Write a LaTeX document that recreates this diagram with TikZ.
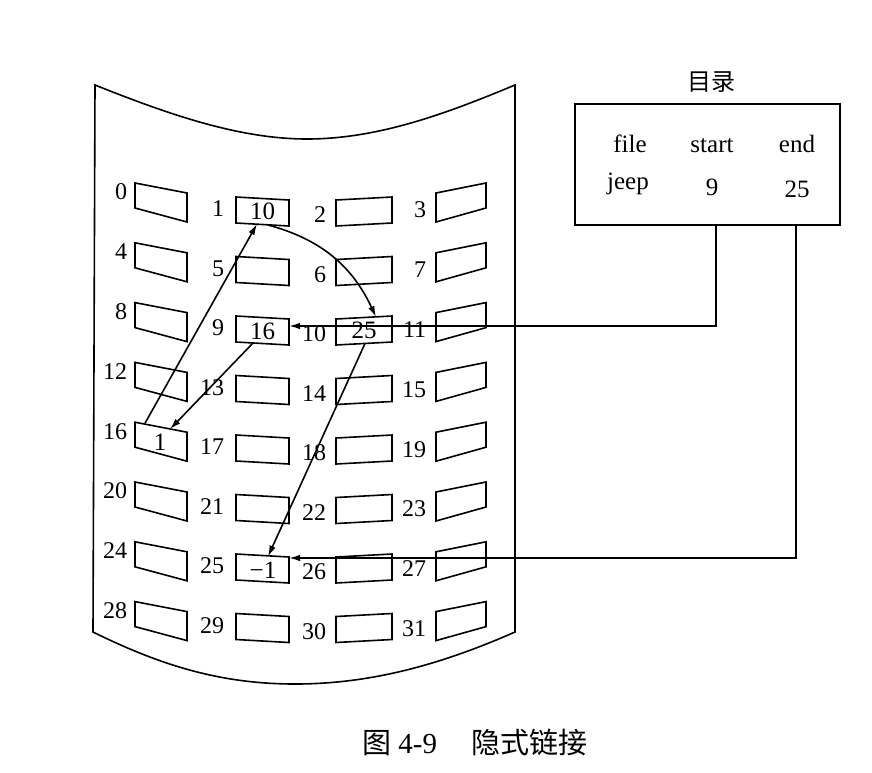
\documentclass[tikz,border=0pt]{standalone}
\usepackage{fontspec}
\setmainfont{Liberation Serif}
\newfontfamily\cjk{Noto Sans CJK SC}
\usetikzlibrary{arrows.meta,calc}
\begin{document}
\begin{tikzpicture}[x=1pt,y=-1pt,line width=1.6pt,
  lbl/.style={inner sep=0pt,font=\fontsize{24}{24}\selectfont},
  cnt/.style={inner sep=0pt,font=\fontsize{25}{25}\selectfont},
  dtxt/.style={inner sep=0pt,anchor=base,font=\fontsize{25}{25}\selectfont},
  arr/.style={-{Latex[length=11pt,width=6.5pt]}}]
\useasboundingbox (0,0) rectangle (872,772);
% disk outline
\draw (95,85) .. controls (170,115) and (240,139) .. (307,139)
  .. controls (380,139) and (450,112) .. (515,85) -- (515,632)
  .. controls (440,665) and (370,684) .. (295,684)
  .. controls (220,684) and (160,665) .. (93,632) -- cycle;
% blocks
\foreach \r in {0,...,7}{
  \pgfmathtruncatemacro\na{4*\r}
  \pgfmathtruncatemacro\nb{4*\r+1}
  \pgfmathtruncatemacro\nc{4*\r+2}
  \pgfmathtruncatemacro\nd{4*\r+3}
  \begin{scope}[shift={(135,183+59.8*\r)}]
    \draw (0,0) -- (52,10) -- (52,39) -- (0,25) -- cycle;
    \coordinate (b\na) at (0,0);
    \node[lbl,anchor=east] at (-7,9) {\na};
  \end{scope}
  \begin{scope}[shift={(236,197+59.5*\r)}]
    \draw (0,0) -- (53,3) -- (53,29) -- (0,26) -- cycle;
    \coordinate (b\nb) at (0,0);
    \node[lbl,anchor=east] at (-11,12) {\nb};
  \end{scope}
  \begin{scope}[shift={(336,197+59.5*\r)}]
    \draw (0,3) -- (56,0) -- (56,26) -- (0,29) -- cycle;
    \coordinate (b\nc) at (0,0);
    \node[lbl,anchor=east] at (-9,18) {\nc};
  \end{scope}
  \begin{scope}[shift={(436,183+59.8*\r)}]
    \draw (0,10) -- (50,0) -- (50,25) -- (0,39) -- cycle;
    \coordinate (b\nd) at (0,0);
    \node[lbl,anchor=east] at (-9,27) {\nd};
  \end{scope}
}
% block contents
\node[cnt] (c1) at ($(b1)+(26.5,14.5)$) {10};
\node[cnt] (c9) at ($(b9)+(26.5,15)$) {16};
\node[cnt] (c10) at ($(b10)+(28,14.5)$) {25};
\node[cnt] (c16) at ($(b16)+(25,20)$) {1};
\node[cnt] (c25) at ($(b25)+(27,16)$) {−1};
% directory
\node[inner sep=0pt,font=\cjk\fontsize{24}{24}\selectfont] (dirt) at (711,82) {目录};
\node[draw,inner sep=0pt,outer sep=0pt,minimum width=265pt,minimum height=121pt,anchor=north west] (dir) at (575,104) {};
\node[dtxt] (tf) at (630,152) {file};
\node[dtxt] (ts) at (712,152) {start};
\node[dtxt] (te) at (797,152) {end};
\node[dtxt] (tj) at (628,189) {jeep};
\node[dtxt] (t9) at (712,195) {9};
\node[dtxt] (t25) at (797,197) {25};
\coordinate (ds) at (716,225);
\coordinate (de) at (796,225);
% links
\draw[arr] ($(b16)+(10,1)$) -- ($(b1)+(21,27)$);
\draw[arr] ($(b1)+(32,28)$) to[out=-15,in=115] ($(b10)+(40,1)$);
\draw[arr] ($(b9)+(17,27)$) -- ($(b16)+(35,7)$);
\draw[arr] ($(b10)+(29,27.5)$) -- ($(b25)+(32,2.5)$);
\draw[arr] (ds) |- ($(b9)+(53,10)$);
\draw[arr] (de) |- ($(b25)+(53,4)$);
% caption
\node[inner sep=0pt,font=\fontsize{29}{29}\selectfont] (cap) at (475,742) {{\cjk 图}~4-9\hspace{1.2em}{\cjk 隐式链接}};
\end{tikzpicture}
\end{document}
